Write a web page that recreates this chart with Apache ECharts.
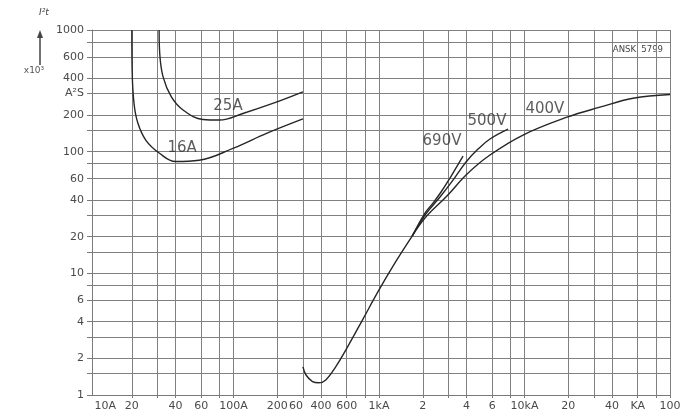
<!DOCTYPE html>
<html>
<head>
<meta charset="utf-8">
<script src="https://cdn.jsdelivr.net/npm/echarts@6/dist/echarts.min.js"></script>
<style>
html, body { margin: 0; padding: 0; background: #fff; }
#chart { width: 698px; height: 417px; }
</style>
</head>
<body>
<div id="chart"></div>
<script>
// axis ticks / grid
var xMin = 10.65, xMax = 100000;
var xGridValues = [20, 30, 40, 60, 80, 100, 200, 300, 400, 600, 800, 1000, 2000, 3000, 4000, 6000, 8000,
    10000, 20000, 30000, 40000, 60000, 80000, 100000];
var xLabelValues = [10.7, 20, 40, 60, 100, 200, 300, 400, 600, 1000, 2000, 4000, 6000, 10000, 20000, 40000, 60000, 100000];
var xLabelTexts = ['10A', '20', '40', '60', '100A', '200', '60', '400', '600', '1kA', '2', '4', '6', '10kA', '20', '40', 'KA', '100'];
var yGridValues = [1, 1.5, 2, 3, 4, 6, 8, 10, 15, 20, 30, 40, 60, 80, 100, 150, 200, 300, 400, 600, 800, 1000];
var yLabelValues = [1, 2, 4, 6, 10, 20, 40, 60, 100, 200, 300, 400, 600, 1000];
var yLabelTexts = ['1', '2', '4', '6', '10', '20', '40', '60', '100', '200', 'A²S', '400', '600', '1000'];

// curves [A, I²t]
var curve16A = [[20, 1000], [20.1, 470], [20.7, 250], [22, 172], [25, 124], [31, 97], [40, 83], [58, 85],
    [100, 107], [170, 142], [300, 186]];
var curve25A = [[30.8, 1000], [31.1, 646], [32.8, 412], [37.4, 282], [45, 220], [61.6, 184], [80, 182],
    [116, 206], [186, 249], [300, 310]];
var curveCommon = [[300, 1.7], [315, 1.46], [349, 1.29], [385, 1.26], [431, 1.33], [505, 1.71], [591, 2.34],
    [769, 4.13], [1000, 7.3], [1300, 12.4], [1690, 20.2]];
var curve400V = [[1690, 20.2], [2070, 28.5], [2930, 43.2], [4030, 65.5], [5790, 93.8], [9770, 137], [19600, 192],
    [33000, 232], [55700, 275], [100000, 295]];
var curve500V = [[1690, 20.2], [2070, 30.1], [2625, 42.4], [3225, 58.4], [3965, 82.2], [4790, 105], [5790, 127], [7710, 153]];
var curve690V = [[1690, 20.2], [2070, 31.3], [2350, 37.8], [2670, 46.6], [3075, 60.7], [3440, 76.2], [3780, 92]];

var curveLabels = [[44.3, 107, '16A'], [91.6, 237, '25A'], [2710, 122, '690V'], [5520, 178, '500V'], [13800, 224, '400V']];

var FONT = 'DejaVu Sans';

function lookup(values, texts, v) {
    for (var i = 0; i < values.length; i++) {
        if (Math.abs(values[i] - v) / values[i] < 1e-4) return texts[i];
    }
    return '';
}

function curve(data) {
    return {
        type: 'line',
        data: data,
        smooth: 0.4,
        symbol: 'none',
        silent: true,
        lineStyle: { color: '#262626', width: 1.4 }
    };
}

var myChart = echarts.init(document.getElementById('chart'));
var option = {
    animation: false,
    backgroundColor: '#fff',
    grid: { left: 92, right: 28, top: 30, bottom: 22 },
    xAxis: {
        type: 'log',
        min: xMin,
        max: xMax,
        axisLine: { show: true, lineStyle: { color: '#7a7a7a', width: 1 } },
        axisTick: { show: true, length: 3, customValues: xGridValues, lineStyle: { color: '#7a7a7a' } },
        splitLine: { show: true, lineStyle: { color: '#808080', width: 1 } },
        axisLabel: {
            customValues: xLabelValues,
            margin: 6,
            color: '#4a4a4a',
            fontFamily: FONT,
            fontSize: 11,
            formatter: function (v) {
                var t = lookup(xLabelValues, xLabelTexts, v);
                if (t === '10A') return '{l|' + t + '}';
                if (Math.abs(v - 300) < 1e-6) return '{r|' + t + '}';
                return t;
            },
            rich: {
                l: { fontFamily: FONT, fontSize: 11, color: '#4a4a4a', padding: [0, 0, 0, 26] },
                r: { fontFamily: FONT, fontSize: 11, color: '#4a4a4a', padding: [0, 14, 0, 0] }
            }
        }
    },
    yAxis: {
        type: 'log',
        min: 1,
        max: 1000,
        axisLine: { show: true, lineStyle: { color: '#7a7a7a', width: 1 } },
        axisTick: { show: true, length: 5, customValues: yGridValues, lineStyle: { color: '#7a7a7a' } },
        splitLine: { show: true, lineStyle: { color: '#808080', width: 1 } },
        axisLabel: {
            customValues: yLabelValues,
            margin: 8,
            color: '#4a4a4a',
            fontFamily: FONT,
            fontSize: 11,
            formatter: function (v) {
                return lookup(yLabelValues, yLabelTexts, v);
            }
        }
    },
    series: [
        curve(curve16A),
        curve(curve25A),
        curve(curveCommon),
        curve(curve400V),
        curve(curve500V),
        curve(curve690V),
        {
            type: 'scatter',
            data: curveLabels,
            symbolSize: 1,
            silent: true,
            itemStyle: { color: 'rgba(0,0,0,0)' },
            label: {
                show: true,
                position: 'inside',
                color: '#333',
                fontFamily: FONT,
                fontSize: 15,
                formatter: function (p) { return p.data[2]; }
            }
        }
    ],
    graphic: [
        { type: 'text', x: 44, y: 13, style: { text: 'I²t', font: 'italic 9px ' + FONT, fill: '#444', align: 'center', verticalAlign: 'middle' } },
        { type: 'line', shape: { x1: 40, y1: 65, x2: 40, y2: 36 }, style: { stroke: '#444', lineWidth: 1.5 } },
        { type: 'polygon', shape: { points: [[37, 38], [43, 38], [40, 30]] }, style: { fill: '#444' } },
        { type: 'text', x: 34, y: 71, style: { text: 'x10³', font: '9px ' + FONT, fill: '#555', align: 'center', verticalAlign: 'middle' } },
        { type: 'text', x: 663, y: 50, style: { text: 'ANSK  5799', font: '8.5px ' + FONT, fill: '#444', align: 'right', verticalAlign: 'middle' } }
    ]
};
myChart.setOption(option);
</script>
</body>
</html>
